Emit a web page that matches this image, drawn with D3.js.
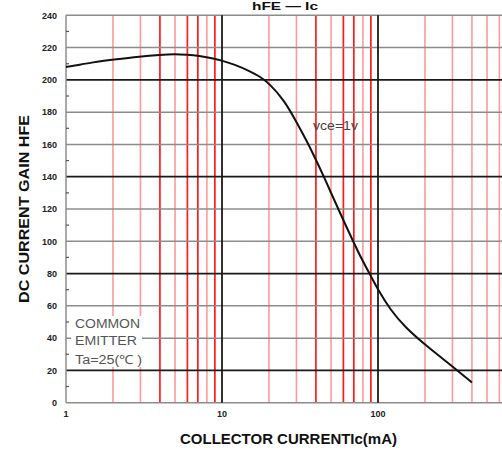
<!DOCTYPE html>
<html><head><meta charset="utf-8">
<script src="https://cdn.jsdelivr.net/npm/d3@7"></script>
<style>body{margin:0;background:#fff;overflow:hidden}svg{display:block}text{font-family:"Liberation Sans",Arial,sans-serif}</style>
</head><body>
<svg id="c" width="502" height="450"></svg>
<script>
// Data
const icValues  = [1, 1.1, 1.5, 2, 3, 4, 5, 6, 7, 8, 10, 12, 15, 17.5, 20, 25, 30, 35, 40, 45, 50, 60, 70, 80, 90, 100, 120, 150, 200, 250, 300, 400];
const hfeValues = [208, 208.5, 211, 212.5, 214.5, 215.5, 216, 215.5, 215, 214, 212, 209.5, 205.5, 202, 198, 187.5, 174, 162, 150.5, 140, 130, 113, 99, 87.5, 78.5, 70, 57.5, 46.5, 36, 28.5, 22.5, 12.5];
const yTicks = [0, 20, 40, 60, 80, 100, 120, 140, 160, 180, 200, 220, 240];
const yMinorTicks = [10, 30, 50, 70, 90, 110, 130, 150, 170, 190, 210, 230];
const yBoldLines = [20, 80, 140, 200];
const xTickLabels = [1, 10, 100];
const xMinorBold = [4, 6, 7, 9, 40, 60, 70, 90];
const xMinorLight = [2, 3, 5, 8, 20, 30, 50, 80, 200, 300, 400, 500, 600, 700, 800, 900];
const xDecades = [10, 100];
const noteLines = ["COMMON", "EMITTER", "Ta=25(\u2103 )"];

const svg = d3.select("#c");
const x = d3.scaleLog().domain([1, 1000]).range([66, 534]);
const y = d3.scaleLinear().domain([0, 240]).range([402.7, 15.3]);

const g = svg.append("g");
g.selectAll(".vl").data(xMinorLight).join("line")
  .attr("x1", d => x(d)).attr("x2", d => x(d)).attr("y1", y(240)).attr("y2", y(0))
  .attr("stroke", "#ff9a9a").attr("stroke-width", 1.6);
g.selectAll(".vb").data(xMinorBold).join("line")
  .attr("x1", d => x(d)).attr("x2", d => x(d)).attr("y1", y(240)).attr("y2", y(0))
  .attr("stroke", "#ff1a1a").attr("stroke-width", 1.7);
g.selectAll(".hg").data(yTicks.filter(d => !yBoldLines.includes(d))).join("line")
  .attr("x1", x(1)).attr("x2", 502).attr("y1", d => y(d)).attr("y2", d => y(d))
  .attr("stroke", "#8c8c8c").attr("stroke-width", 1.5);
g.selectAll(".hb").data(yBoldLines).join("line")
  .attr("x1", x(1)).attr("x2", 502).attr("y1", d => y(d)).attr("y2", d => y(d))
  .attr("stroke", "#1a1a1a").attr("stroke-width", 1.8);
g.selectAll(".vd").data(xDecades).join("line")
  .attr("x1", d => x(d)).attr("x2", d => x(d)).attr("y1", y(240)).attr("y2", y(0))
  .attr("stroke", "#1a1a1a").attr("stroke-width", 1.8);
g.append("line").attr("x1", x(1)).attr("x2", x(1)).attr("y1", y(240)).attr("y2", y(0))
  .attr("stroke", "#8c8c8c").attr("stroke-width", 1.5);
g.selectAll(".ym").data(yMinorTicks).join("line")
  .attr("x1", x(1)).attr("x2", x(1) + 3).attr("y1", d => y(d)).attr("y2", d => y(d))
  .attr("stroke", "#555").attr("stroke-width", 1.2);

svg.selectAll(".yl").data(yTicks).join("text")
  .attr("x", 57).attr("y", d => y(d) + 3.3).attr("text-anchor", "end")
  .attr("font-size", 9).attr("font-weight", "bold").attr("fill", "#222").text(d => d);
svg.selectAll(".xl").data(xTickLabels).join("text")
  .attr("x", d => x(d)).attr("y", 416.5).attr("text-anchor", "middle")
  .attr("font-size", 9).attr("font-weight", "bold").attr("fill", "#222").text(d => d);

const line = d3.line().x(d => x(d[0])).y(d => y(d[1])).curve(d3.curveBasis);
svg.append("path").datum(icValues.map((v, i) => [v, hfeValues[i]]))
  .attr("d", line).attr("fill", "none").attr("stroke", "#111").attr("stroke-width", 2);

svg.append("rect").attr("x", 71).attr("y", 316).attr("width", 71).attr("height", 51).attr("fill", "#fff");
const noteY = [328, 345, 364];
const noteW = [65, 62, 67];
svg.selectAll(".nt").data(noteLines).join("text")
  .attr("x", 75).attr("y", (d, i) => noteY[i])
  .attr("font-size", 12.5).attr("fill", "#555")
  .attr("textLength", (d, i) => noteW[i]).attr("lengthAdjust", "spacingAndGlyphs")
  .text(d => d);

svg.append("text").attr("x", 313).attr("y", 130).attr("font-size", 12.5).attr("fill", "#444")
  .attr("textLength", 45).attr("lengthAdjust", "spacingAndGlyphs").text("vce=1v");

svg.append("text").attr("x", 180).attr("y", 443.5).attr("font-size", 15.5).attr("font-weight", "bold")
  .attr("fill", "#111").attr("textLength", 217).attr("lengthAdjust", "spacingAndGlyphs")
  .text("COLLECTOR CURRENTIc(mA)");
svg.append("text").attr("transform", "translate(29,303) rotate(-90)").attr("font-size", 15.5)
  .attr("font-weight", "bold").attr("fill", "#111").attr("textLength", 188)
  .attr("lengthAdjust", "spacingAndGlyphs").text("DC CURRENT GAIN  HFE");

svg.append("text").attr("x", 252).attr("y", 9.5).attr("font-size", 10).attr("font-weight", "bold")
  .attr("fill", "#111").attr("textLength", 66).attr("lengthAdjust", "spacingAndGlyphs").text("hFE \u2014 Ic");
</script>
</body></html>
